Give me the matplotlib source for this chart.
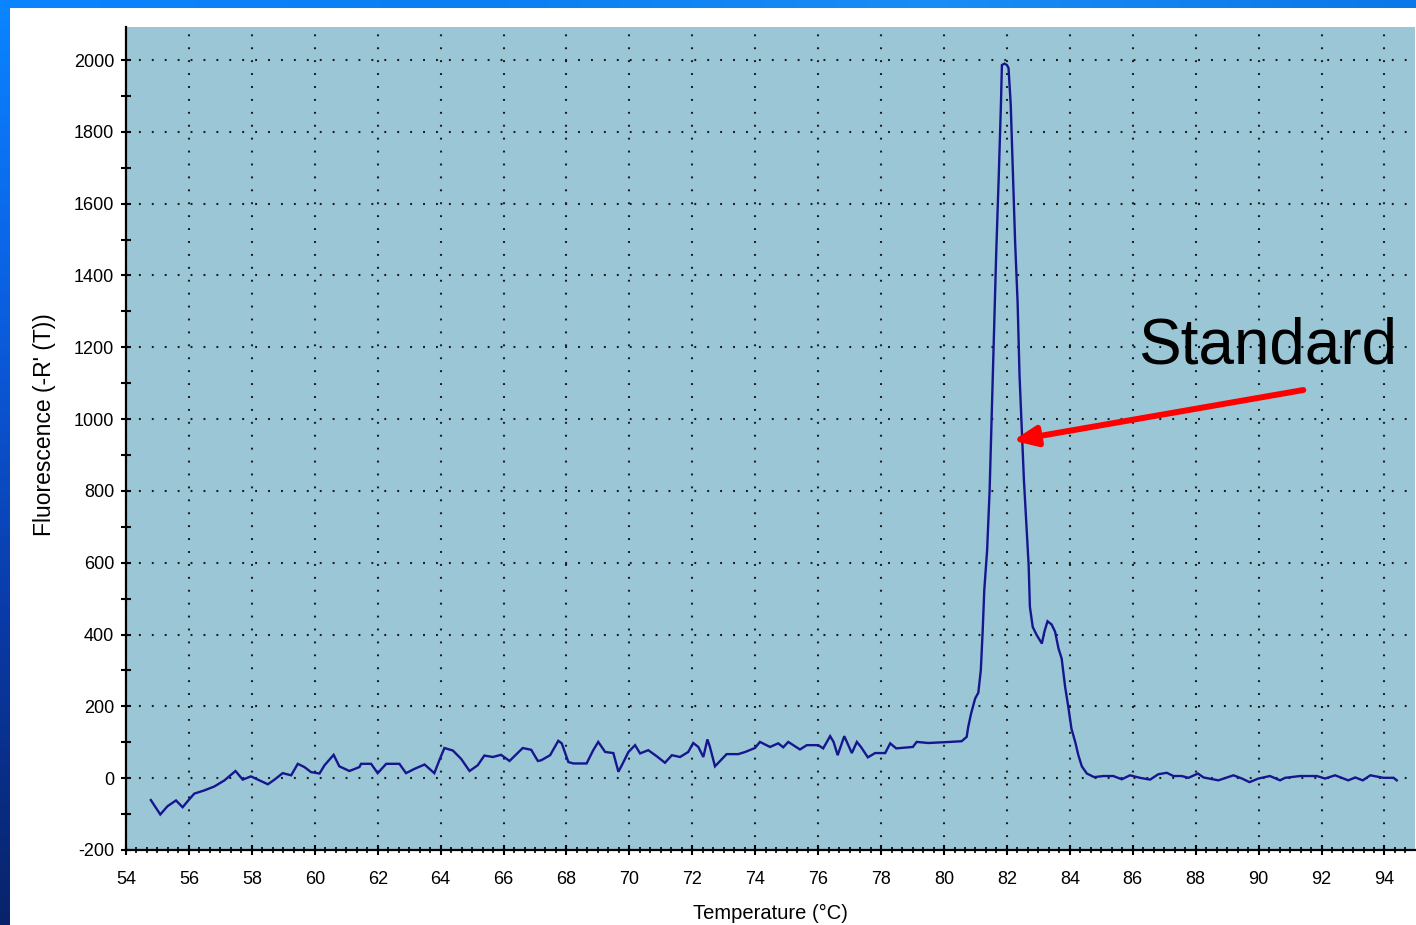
import numpy as np
import matplotlib
matplotlib.use("Agg")
import matplotlib.pyplot as plt
from matplotlib.ticker import MultipleLocator
from matplotlib.colors import LinearSegmentedColormap

# Melt-curve derivative data: temperature (°C) and -R'(T)
temperature = [
    54.79, 55.09, 55.32, 55.59, 55.80, 55.98, 56.17, 56.49, 56.81, 57.13,
    57.48, 57.71, 57.97, 58.24, 58.51, 58.72, 58.98, 59.25, 59.46, 59.67,
    59.88, 60.15, 60.31, 60.60, 60.78, 61.10, 61.42, 61.47, 61.79, 62.00,
    62.27, 62.69, 62.90, 63.17, 63.49, 63.80, 63.96, 64.12, 64.39, 64.65,
    64.92, 65.18, 65.39, 65.66, 65.92, 66.19, 66.61, 66.88, 67.09, 67.20,
    67.48, 67.74, 67.85, 68.06, 68.22, 68.64, 68.85, 69.01, 69.23, 69.49,
    69.65, 69.76, 69.97, 70.18, 70.34, 70.60, 70.87, 71.13, 71.35, 71.61,
    71.87, 72.03, 72.19, 72.35, 72.48, 72.56, 72.72, 73.09, 73.46, 73.68,
    73.99, 74.15, 74.47, 74.73, 74.89, 75.05, 75.42, 75.64, 76.00, 76.16,
    76.38, 76.49, 76.62, 76.83, 77.07, 77.23, 77.36, 77.58, 77.81, 78.13,
    78.29, 78.48, 79.01, 79.13, 79.50, 80.19, 80.56, 80.72, 80.77, 80.86,
    80.99, 81.09, 81.17, 81.23, 81.28, 81.34, 81.37, 81.45, 81.52, 81.59,
    81.66, 81.74, 81.81, 81.84, 81.92, 82.00, 82.05, 82.12, 82.19, 82.26,
    82.34, 82.40, 82.46, 82.54, 82.62, 82.69, 82.73, 82.82, 82.95, 83.11,
    83.19, 83.29, 83.42, 83.53, 83.64, 83.74, 83.85, 83.95, 84.05, 84.17,
    84.27, 84.38, 84.54, 84.77, 85.07, 85.38, 85.65, 85.91, 86.23, 86.55,
    86.81, 87.08, 87.29, 87.56, 87.77, 88.07, 88.25, 88.72, 88.99, 89.20,
    89.47, 89.71, 89.99, 90.36, 90.68, 90.84, 91.32, 91.85, 92.11, 92.43,
    92.85, 93.07, 93.31, 93.55, 93.97, 94.29, 94.39,
]
fluorescence = [
    -61, -101, -78, -62, -81, -62, -43, -34, -23, -6,
    20, -4, 5, -6, -17, -4, 14, 8, 40, 31,
    17, 13, 36, 65, 33, 20, 31, 40, 40, 14,
    40, 40, 14, 26, 38, 14, 50, 84, 77, 54,
    20, 36, 63, 59, 65, 48, 84, 79, 48, 50,
    64, 104, 97, 45, 41, 41, 78, 101, 73, 70,
    18, 36, 73, 92, 69, 78, 61, 43, 64, 59,
    73, 98, 87, 59, 108, 87, 33, 67, 67, 73,
    84, 101, 87, 97, 86, 101, 80, 92, 92, 83,
    117, 101, 64, 117, 70, 101, 87, 58, 70, 70,
    97, 83, 87, 101, 98, 101, 103, 115, 143, 180,
    222, 238, 301, 412, 524, 600, 635, 802, 1025, 1242,
    1465, 1677, 1880, 1986, 1990, 1986, 1978, 1877, 1682, 1493,
    1323, 1122, 997, 830, 705, 593, 477, 421, 398, 375,
    408, 437, 428, 408, 361, 333, 254, 199, 138, 101,
    64, 33, 13, 3, 6, 6, -3, 8, 1, -4,
    11, 15, 6, 6, 1, 13, 2, -6, 2, 8,
    -1, -11, -1, 6, -6, 1, 6, 6, -1, 8,
    -6, 2, -6, 8, 1, 1, -6,
]

x_ticks = list(range(54, 95, 2))
y_ticks = list(range(-200, 2001, 200))

annotation_text = "Standard"
text_pos = (86.17, 1156)
arrow_tail = (91.42, 1081)
arrow_tip = (82.19, 940)

W, H = 1416, 925
fig = plt.figure(figsize=(W / 100, H / 100), dpi=100, facecolor="white")

# window frame: blue top bar and gradient left bar
top_bar = fig.add_axes([0, 1 - 8 / H, 1, 8 / H])
top_bar.imshow(np.linspace(0, 1, 256)[None, :], aspect="auto",
               cmap=LinearSegmentedColormap.from_list("tb", ["#0a84ff", "#0a7ff2", "#1a8cf5", "#0a78e8"]))
top_bar.axis("off")
left_bar = fig.add_axes([0, 0, 10 / W, 1 - 8 / H])
left_bar.imshow(np.linspace(0, 1, 256)[:, None], aspect="auto",
                cmap=LinearSegmentedColormap.from_list("lb", ["#0a84ff", "#0a5ee0", "#0a3aa8", "#08236a"]))
left_bar.axis("off")

# plot area
ax_left, ax_right = 126 / W, 1415 / W
ax_bottom, ax_top = 1 - 850 / H, 1 - 27 / H
ax = fig.add_axes([ax_left, ax_bottom, ax_right - ax_left, ax_top - ax_bottom])
ax.set_facecolor("#9ac6d6")
ax.set_xlim(54, 94.97)
ax.set_ylim(-200, 2092)

ax.plot(temperature, fluorescence, color="#16168e", lw=1.7, zorder=3,
        solid_joinstyle="miter")

ax.set_xticks(x_ticks)
ax.set_yticks(y_ticks)
ax.xaxis.set_minor_locator(MultipleLocator(1 / 3))
ax.yaxis.set_minor_locator(MultipleLocator(100))
ax.grid(True, which="major", color="#1a1a1a", lw=1.5,
        linestyle=(0, (0.9, 5.3)), zorder=1)
ax.set_axisbelow(True)

for side in ("top", "right"):
    ax.spines[side].set_visible(False)
for side in ("left", "bottom"):
    ax.spines[side].set_linewidth(1.6)
    ax.spines[side].set_color("black")

tick_font = dict(family="Liberation Sans", size=13)
ax.tick_params(axis="both", which="major", direction="inout", length=7,
               width=1.5, color="black")
ax.tick_params(axis="y", which="minor", direction="inout", length=7,
               width=1.5, color="black")
ax.tick_params(axis="x", which="minor", direction="inout", length=4,
               width=1.2, color="black")
ax.tick_params(axis="y", which="major", pad=5)
ax.tick_params(axis="x", which="major", pad=11.5)
ax.set_xticklabels([str(v) for v in x_ticks], fontdict=tick_font)
ax.set_yticklabels([str(v) for v in y_ticks], fontdict=tick_font)

fig.text(770 / W, 1 - 913 / H, "Temperature (\u00b0C)", ha="center", va="center",
         family="Liberation Sans", size=14.5)
fig.text(45 / W, 1 - 425 / H, "Fluorescence (-R' (T))", ha="center", va="center",
         rotation=90, family="Liberation Sans", size=16.5)

ax.text(text_pos[0], text_pos[1], annotation_text, ha="left", va="baseline",
        family="Liberation Sans", size=46, color="black", zorder=5)
ax.annotate("", xy=arrow_tip, xytext=arrow_tail,
            arrowprops=dict(arrowstyle="-|>,head_length=0.7,head_width=0.3",
                            color="#ff0000", lw=4.3, mutation_scale=20,
                            shrinkA=0, shrinkB=0),
            zorder=6)

fig.savefig("out.png", dpi=100, facecolor="white")
